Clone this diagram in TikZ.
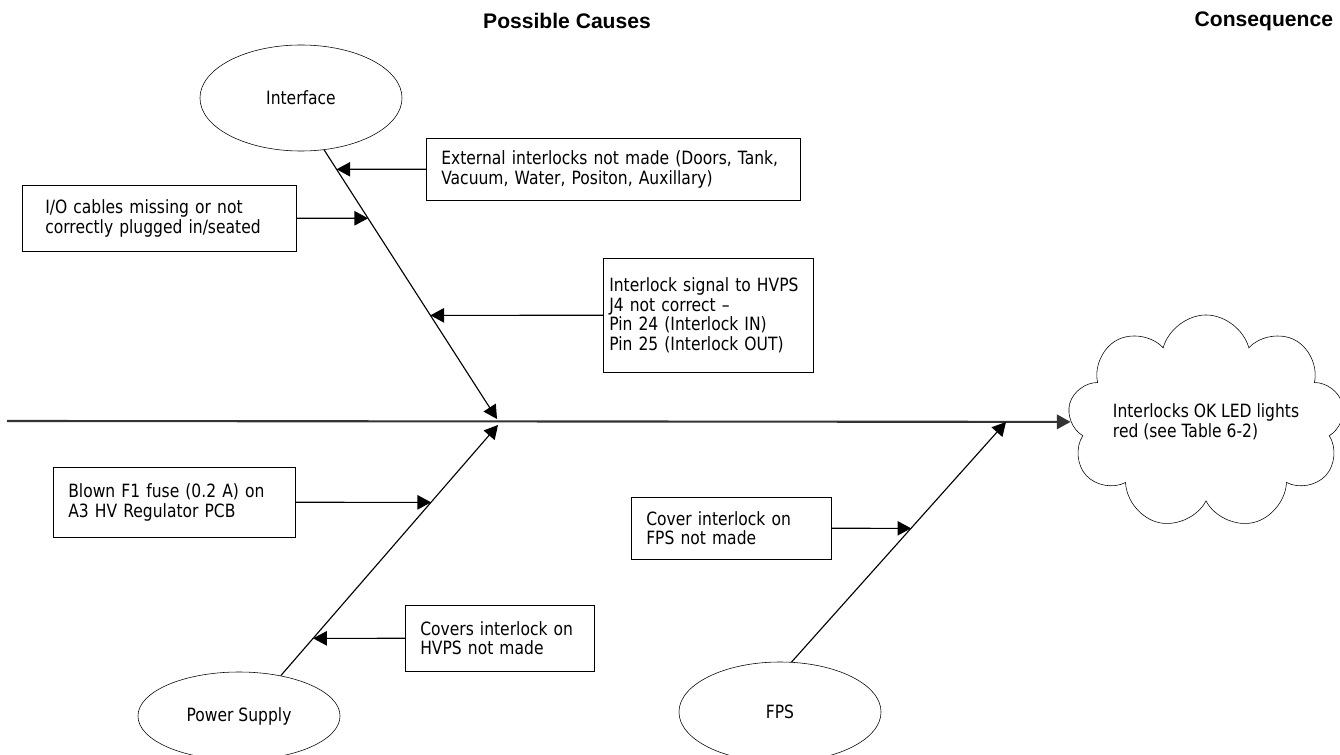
\documentclass[tikz,border=0pt]{standalone}
\usepackage{fontspec}
\setmainfont{DejaVu Sans}[FakeStretch=0.85]
\newfontfamily\headfont{Liberation Sans}
\usetikzlibrary{positioning,arrows.meta,shapes.geometric,shapes.symbols}

\begin{document}
\begin{tikzpicture}[
        x=0.025cm, y=-0.025cm,
        >={Triangle[length=0.34cm,width=0.36cm]},
        bone/.style={line width=0.8pt},
        spine/.style={line width=1.5pt, draw=black!80, fill=black!80},
        cat/.style={draw, ellipse, minimum width=5.05cm, inner sep=0pt, font=\fontsize{13}{14}\selectfont},
        cause/.style={draw, anchor=north west, align=left, inner xsep=0.375cm, inner ysep=0pt, font=\fontsize{13}{14}\selectfont},
        head/.style={font=\headfont\bfseries\fontsize{15}{18}\selectfont}
    ]
        \useasboundingbox (0,0) rectangle (1340,755);

        \node[head] (ttlc) at (567,21) {Possible Causes};
        \node[head, anchor=east] (ttlq) at (1338,21) {Consequence};

        \node[cat, minimum height=2.65cm] (iface) at (301,98)  {Interface};
        \node[cat, minimum height=2.2cm]  (psu)   at (239,716) {Power Supply};
        \node[cat, minimum height=2.5cm]  (fps)   at (780,712) {FPS};

        \node[cloud, draw, cloud puffs=9, cloud ignores aspect, minimum width=6.55cm, minimum height=5.35cm,
              align=left, font=\fontsize{13}{14}\selectfont] (effect) at (1206,422)
              {Interlocks OK LED lights\\red (see Table 6-2)};

        \coordinate (tail) at (7,421);
        \coordinate (ihd)  at (497,419);
        \coordinate (phd)  at (498,425);
        \coordinate (fhd)  at (1006,422);
        \coordinate (itl)  at (iface.-66);
        \coordinate (ptl)  at (psu.44);
        \coordinate (ftl)  at (fps.77);

        \draw[spine, ->] (tail) -- (effect);
        \draw[bone, ->] (itl) -- (ihd);
        \draw[bone, ->] (ptl) -- (phd);
        \draw[bone, ->] (ftl) -- (fhd);

        \node[cause, text width=8.6cm, minimum height=1.55cm] (ext) at (426,138)
            {External interlocks not made (Doors, Tank,\\Vacuum, Water, Positon, Auxillary)};
        \node[cause, text width=5.7cm, inner xsep=0.575cm, minimum height=1.65cm] (io) at (22,185)
            {I/O cables missing or not\\correctly plugged in/seated};
        \node[cause, text width=4.95cm, inner xsep=0.15cm, minimum height=2.85cm] (sig) at (603,258)
            {Interlock signal to HVPS\\J4 not correct –\\Pin 24 (Interlock IN)\\Pin 25 (Interlock OUT)};
        \node[cause, text width=5.3cm, minimum height=1.75cm] (blown) at (53,467)
            {Blown F1 fuse (0.2 A) on\\A3 HV Regulator PCB};
        \node[cause, text width=3.975cm, minimum height=1.65cm] (hvps) at (405,605)
            {Covers interlock on\\HVPS not made};
        \node[cause, text width=4.25cm, minimum height=1.55cm] (fpsc) at (631,497)
            {Cover interlock on\\FPS not made};

        \draw[bone, ->] (ext.west)   -- (intersection of ext.west--ext.east and itl--ihd);
        \draw[bone, ->] (io.east)    -- (intersection of io.west--io.east and itl--ihd);
        \draw[bone, ->] (sig.west)   -- (intersection of sig.west--sig.east and itl--ihd);
        \draw[bone, ->] (blown.east) -- (intersection of blown.west--blown.east and ptl--phd);
        \draw[bone, ->] (hvps.west)  -- (intersection of hvps.west--hvps.east and ptl--phd);
        \draw[bone, ->] (fpsc.east)  -- (intersection of fpsc.west--fpsc.east and ftl--fhd);
    \end{tikzpicture}
\end{document}
